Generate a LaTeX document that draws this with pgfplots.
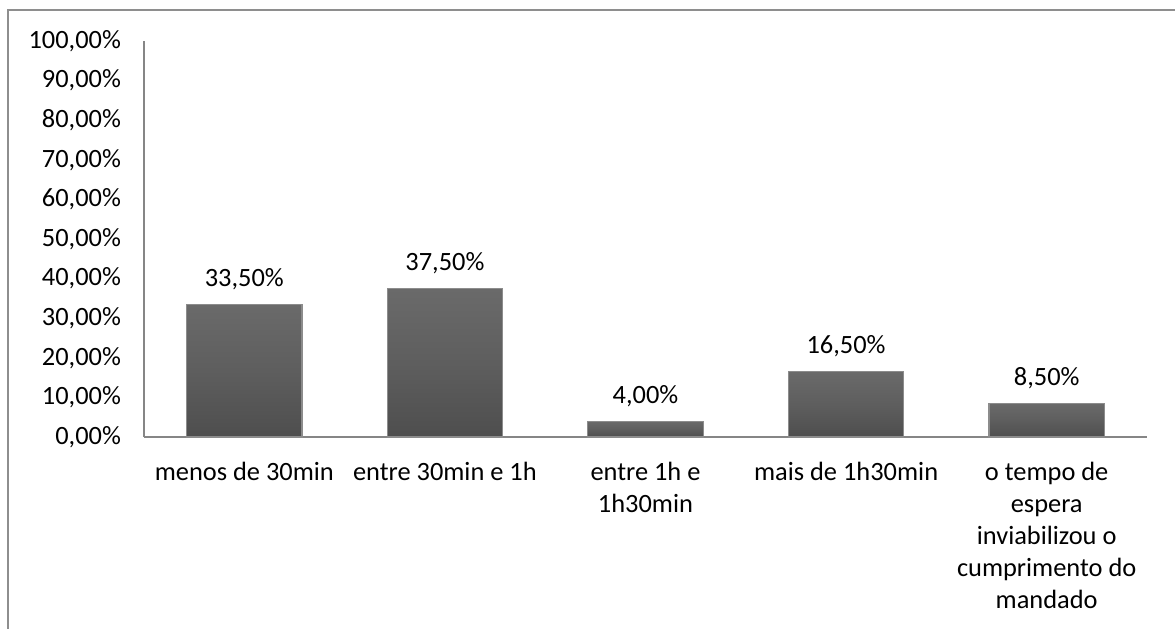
\documentclass[border=0pt]{standalone}
\usepackage{fontspec}
\setmainfont{Carlito}
\usepackage{pgfplots}
\pgfplotsset{compat=1.18}

\definecolor{axisgray}{HTML}{868686}
\definecolor{framegray}{HTML}{8E8E8E}
\definecolor{barline}{HTML}{8C8C8C}
\definecolor{bodytop}{HTML}{6A6A6A}
\definecolor{bodymid}{HTML}{5E5E5E}
\definecolor{bodybot}{HTML}{4E4E4E}

% shaded bar with a light rim
\tikzset{
  bevelbar/.style={
    draw=barline, line width=0.6pt,
    top color=bodytop, bottom color=bodybot, middle color=bodymid,
  }
}

\begin{document}
\begin{tikzpicture}
\useasboundingbox (0,0) rectangle (587.5pt,314pt);
% outer chart frame
\draw[framegray, line width=1pt] (4pt,-2pt) -- (4pt,309pt) -- (592pt,309pt);

\begin{axis}[
  at={(72pt,95.5pt)}, anchor=south west,
  scale only axis,
  width=501.5pt, height=198pt,
  xmin=-0.5, xmax=4.5,
  ymin=0, ymax=100,
  axis x line*=bottom, axis y line*=left,
  axis line style={axisgray, line width=0.75pt},
  clip=false,
  ybar, bar width=57.75pt, bar shift=0pt,
  major tick length=0pt,
  ytick={0,10,...,100},
  xtick={0,1,2,3,4},
  xticklabels={menos de 30min, entre 30min e 1h, {entre 1h e\\1h30min}, mais de 1h30min, {o tempo de\\espera\\inviabilizou o\\cumprimento do\\mandado}},
  /pgf/number format/assume math mode=true,
  yticklabel={\pgfmathprintnumber[fixed,fixed zerofill,precision=2,use comma]{\tick}\%},
  tick label style={font=\fontsize{13.2}{16}\selectfont, text=black},
  yticklabel style={xshift=-8pt},
  xticklabel style={align=center, yshift=-9pt},
  nodes near coords={\pgfmathprintnumber[fixed,fixed zerofill,precision=2,use comma]{\pgfplotspointmeta}\%},
  every node near coord/.append style={font=\fontsize{13.2}{16}\selectfont, text=black, anchor=base, yshift=9pt},
]
\addplot[bevelbar] coordinates {(0,33.5)};
\addplot[bevelbar] coordinates {(1,37.5)};
\addplot[bevelbar] coordinates {(2,4.0)};
\addplot[bevelbar] coordinates {(3,16.5)};
\addplot[bevelbar] coordinates {(4,8.5)};
\end{axis}
\end{tikzpicture}
\end{document}
